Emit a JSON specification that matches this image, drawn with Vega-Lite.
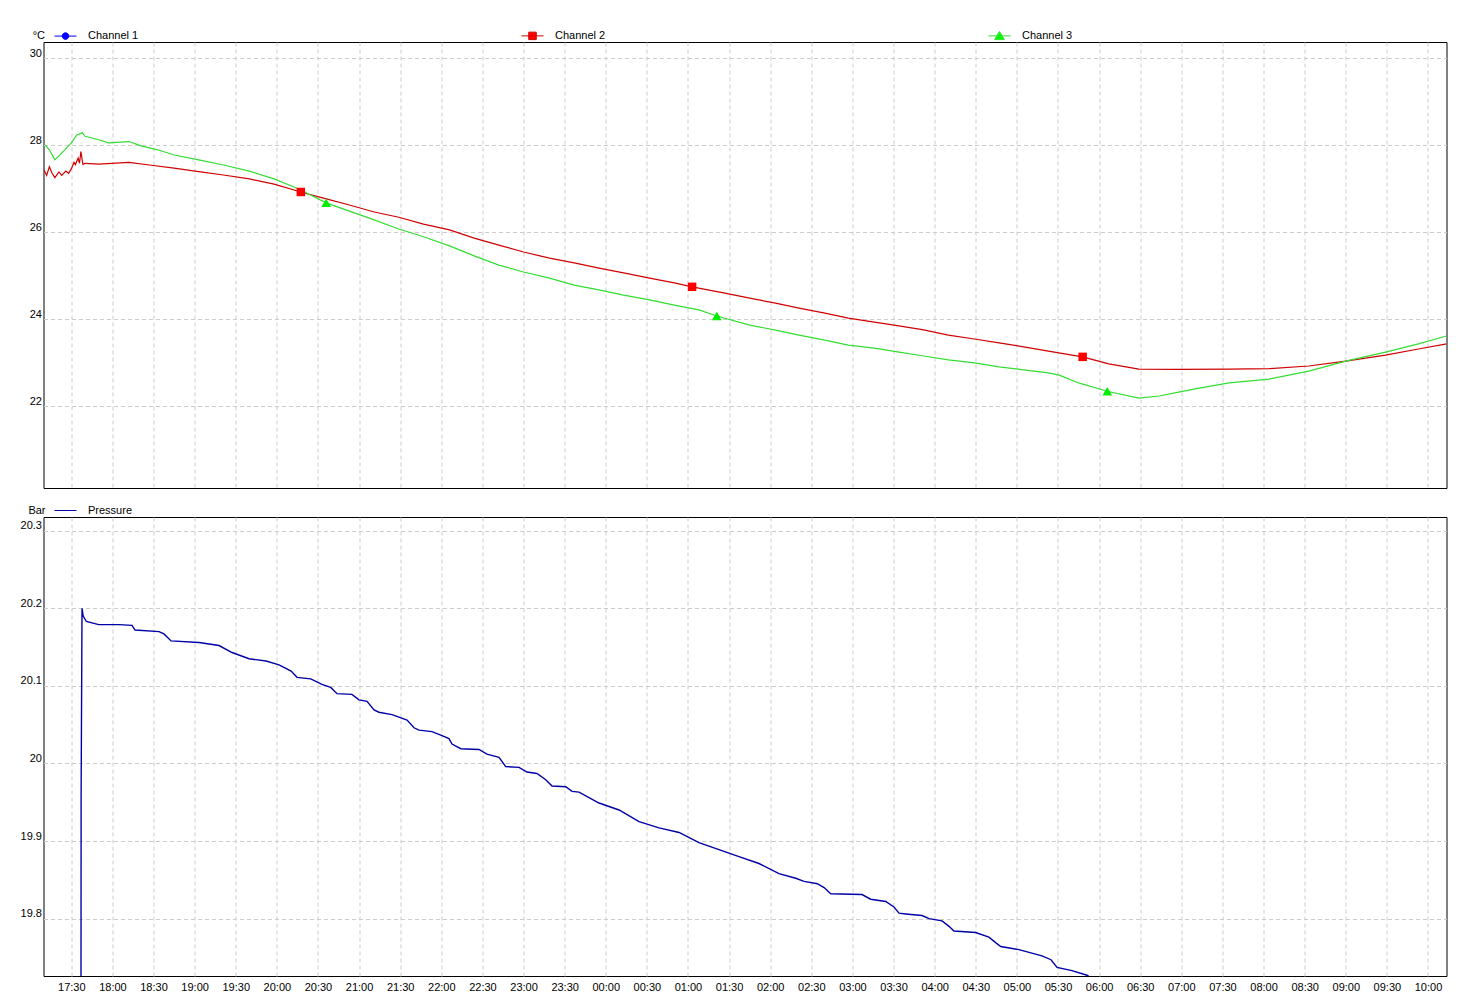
{
  "$schema": "https://vega.github.io/schema/vega-lite/v6.json",
  "background": "white",
  "padding": {"left": 19.5, "top": 23, "right": 5, "bottom": 5},
  "spacing": 9,
  "config": {
    "font": "Liberation Sans",
    "view": {"stroke": "#000000", "strokeWidth": 1},
    "axis": {
      "labelFont": "Liberation Sans", "labelFontSize": 11, "labelColor": "#000000",
      "titleFont": "Liberation Sans", "titleFontSize": 11, "titleFontWeight": "normal", "titleColor": "#000000",
      "gridColor": "#cccccc", "gridDash": [4, 3], "gridWidth": 1, "gridOpacity": 1,
      "domain": false, "ticks": false
    },
    "legend": {
      "labelFont": "Liberation Sans", "labelFontSize": 11, "labelColor": "#000000", "padding": 0
    }
  },
  "datasets": {
    "temps": [
      {"time": "2024-01-01T17:10:00", "channel": "Channel 2", "value": 27.43},
      {"time": "2024-01-01T17:12:00", "channel": "Channel 2", "value": 27.30},
      {"time": "2024-01-01T17:14:00", "channel": "Channel 2", "value": 27.50},
      {"time": "2024-01-01T17:16:00", "channel": "Channel 2", "value": 27.35},
      {"time": "2024-01-01T17:18:00", "channel": "Channel 2", "value": 27.25},
      {"time": "2024-01-01T17:21:00", "channel": "Channel 2", "value": 27.38},
      {"time": "2024-01-01T17:23:00", "channel": "Channel 2", "value": 27.30},
      {"time": "2024-01-01T17:26:00", "channel": "Channel 2", "value": 27.40},
      {"time": "2024-01-01T17:28:00", "channel": "Channel 2", "value": 27.35},
      {"time": "2024-01-01T17:30:00", "channel": "Channel 2", "value": 27.45},
      {"time": "2024-01-01T17:32:00", "channel": "Channel 2", "value": 27.60},
      {"time": "2024-01-01T17:33:00", "channel": "Channel 2", "value": 27.55},
      {"time": "2024-01-01T17:35:00", "channel": "Channel 2", "value": 27.70},
      {"time": "2024-01-01T17:36:00", "channel": "Channel 2", "value": 27.58},
      {"time": "2024-01-01T17:37:00", "channel": "Channel 2", "value": 27.85},
      {"time": "2024-01-01T17:38:30", "channel": "Channel 2", "value": 27.55},
      {"time": "2024-01-01T17:40:00", "channel": "Channel 2", "value": 27.58},
      {"time": "2024-01-01T17:50:00", "channel": "Channel 2", "value": 27.56},
      {"time": "2024-01-01T18:12:00", "channel": "Channel 2", "value": 27.60},
      {"time": "2024-01-01T18:27:00", "channel": "Channel 2", "value": 27.54},
      {"time": "2024-01-01T18:45:00", "channel": "Channel 2", "value": 27.47},
      {"time": "2024-01-01T19:03:00", "channel": "Channel 2", "value": 27.39},
      {"time": "2024-01-01T19:21:00", "channel": "Channel 2", "value": 27.31},
      {"time": "2024-01-01T19:40:00", "channel": "Channel 2", "value": 27.22},
      {"time": "2024-01-01T19:58:00", "channel": "Channel 2", "value": 27.10},
      {"time": "2024-01-01T20:17:30", "channel": "Channel 2", "value": 26.92},
      {"time": "2024-01-01T20:34:00", "channel": "Channel 2", "value": 26.78},
      {"time": "2024-01-01T20:53:00", "channel": "Channel 2", "value": 26.62},
      {"time": "2024-01-01T21:11:00", "channel": "Channel 2", "value": 26.46},
      {"time": "2024-01-01T21:29:00", "channel": "Channel 2", "value": 26.34},
      {"time": "2024-01-01T21:47:00", "channel": "Channel 2", "value": 26.18},
      {"time": "2024-01-01T22:06:00", "channel": "Channel 2", "value": 26.05},
      {"time": "2024-01-01T22:24:00", "channel": "Channel 2", "value": 25.86},
      {"time": "2024-01-01T22:42:00", "channel": "Channel 2", "value": 25.70},
      {"time": "2024-01-01T23:00:00", "channel": "Channel 2", "value": 25.54},
      {"time": "2024-01-01T23:19:00", "channel": "Channel 2", "value": 25.40},
      {"time": "2024-01-01T23:37:00", "channel": "Channel 2", "value": 25.29},
      {"time": "2024-01-01T23:55:00", "channel": "Channel 2", "value": 25.17},
      {"time": "2024-01-02T00:13:00", "channel": "Channel 2", "value": 25.06},
      {"time": "2024-01-02T00:32:00", "channel": "Channel 2", "value": 24.94},
      {"time": "2024-01-02T00:50:00", "channel": "Channel 2", "value": 24.83},
      {"time": "2024-01-02T01:03:00", "channel": "Channel 2", "value": 24.74},
      {"time": "2024-01-02T01:26:00", "channel": "Channel 2", "value": 24.60},
      {"time": "2024-01-02T01:45:00", "channel": "Channel 2", "value": 24.48},
      {"time": "2024-01-02T02:03:00", "channel": "Channel 2", "value": 24.37},
      {"time": "2024-01-02T02:21:00", "channel": "Channel 2", "value": 24.25},
      {"time": "2024-01-02T02:39:00", "channel": "Channel 2", "value": 24.14},
      {"time": "2024-01-02T02:57:00", "channel": "Channel 2", "value": 24.02},
      {"time": "2024-01-02T03:16:00", "channel": "Channel 2", "value": 23.93},
      {"time": "2024-01-02T03:34:00", "channel": "Channel 2", "value": 23.84},
      {"time": "2024-01-02T03:52:00", "channel": "Channel 2", "value": 23.75},
      {"time": "2024-01-02T04:10:00", "channel": "Channel 2", "value": 23.63},
      {"time": "2024-01-02T04:29:00", "channel": "Channel 2", "value": 23.54},
      {"time": "2024-01-02T04:47:00", "channel": "Channel 2", "value": 23.45},
      {"time": "2024-01-02T05:05:00", "channel": "Channel 2", "value": 23.36},
      {"time": "2024-01-02T05:23:00", "channel": "Channel 2", "value": 23.26},
      {"time": "2024-01-02T05:48:00", "channel": "Channel 2", "value": 23.13},
      {"time": "2024-01-02T06:07:00", "channel": "Channel 2", "value": 22.97},
      {"time": "2024-01-02T06:29:00", "channel": "Channel 2", "value": 22.85},
      {"time": "2024-01-02T06:58:00", "channel": "Channel 2", "value": 22.84},
      {"time": "2024-01-02T07:35:00", "channel": "Channel 2", "value": 22.85},
      {"time": "2024-01-02T08:04:00", "channel": "Channel 2", "value": 22.86},
      {"time": "2024-01-02T08:33:00", "channel": "Channel 2", "value": 22.92},
      {"time": "2024-01-02T09:00:00", "channel": "Channel 2", "value": 23.03},
      {"time": "2024-01-02T09:29:00", "channel": "Channel 2", "value": 23.17},
      {"time": "2024-01-02T09:53:00", "channel": "Channel 2", "value": 23.31},
      {"time": "2024-01-02T10:13:30", "channel": "Channel 2", "value": 23.43},
      {"time": "2024-01-01T17:11:00", "channel": "Channel 3", "value": 28.00},
      {"time": "2024-01-01T17:14:00", "channel": "Channel 3", "value": 27.89},
      {"time": "2024-01-01T17:18:00", "channel": "Channel 3", "value": 27.66},
      {"time": "2024-01-01T17:21:00", "channel": "Channel 3", "value": 27.75},
      {"time": "2024-01-01T17:28:00", "channel": "Channel 3", "value": 27.98},
      {"time": "2024-01-01T17:30:00", "channel": "Channel 3", "value": 28.05},
      {"time": "2024-01-01T17:34:00", "channel": "Channel 3", "value": 28.23},
      {"time": "2024-01-01T17:38:00", "channel": "Channel 3", "value": 28.28},
      {"time": "2024-01-01T17:40:00", "channel": "Channel 3", "value": 28.20},
      {"time": "2024-01-01T17:50:00", "channel": "Channel 3", "value": 28.12},
      {"time": "2024-01-01T17:57:00", "channel": "Channel 3", "value": 28.05},
      {"time": "2024-01-01T18:12:00", "channel": "Channel 3", "value": 28.08},
      {"time": "2024-01-01T18:21:00", "channel": "Channel 3", "value": 27.98},
      {"time": "2024-01-01T18:33:00", "channel": "Channel 3", "value": 27.89},
      {"time": "2024-01-01T18:45:00", "channel": "Channel 3", "value": 27.77},
      {"time": "2024-01-01T19:03:00", "channel": "Channel 3", "value": 27.66},
      {"time": "2024-01-01T19:21:00", "channel": "Channel 3", "value": 27.54},
      {"time": "2024-01-01T19:40:00", "channel": "Channel 3", "value": 27.40},
      {"time": "2024-01-01T19:58:00", "channel": "Channel 3", "value": 27.22},
      {"time": "2024-01-01T20:16:00", "channel": "Channel 3", "value": 26.99},
      {"time": "2024-01-01T20:36:00", "channel": "Channel 3", "value": 26.67},
      {"time": "2024-01-01T20:53:00", "channel": "Channel 3", "value": 26.48},
      {"time": "2024-01-01T21:11:00", "channel": "Channel 3", "value": 26.28},
      {"time": "2024-01-01T21:29:00", "channel": "Channel 3", "value": 26.07},
      {"time": "2024-01-01T21:47:00", "channel": "Channel 3", "value": 25.89},
      {"time": "2024-01-01T22:06:00", "channel": "Channel 3", "value": 25.68},
      {"time": "2024-01-01T22:24:00", "channel": "Channel 3", "value": 25.45},
      {"time": "2024-01-01T22:42:00", "channel": "Channel 3", "value": 25.24},
      {"time": "2024-01-01T23:00:00", "channel": "Channel 3", "value": 25.08},
      {"time": "2024-01-01T23:19:00", "channel": "Channel 3", "value": 24.94},
      {"time": "2024-01-01T23:37:00", "channel": "Channel 3", "value": 24.78},
      {"time": "2024-01-01T23:55:00", "channel": "Channel 3", "value": 24.67},
      {"time": "2024-01-02T00:13:00", "channel": "Channel 3", "value": 24.55},
      {"time": "2024-01-02T00:32:00", "channel": "Channel 3", "value": 24.44},
      {"time": "2024-01-02T00:50:00", "channel": "Channel 3", "value": 24.32},
      {"time": "2024-01-02T01:08:00", "channel": "Channel 3", "value": 24.21},
      {"time": "2024-01-02T01:21:00", "channel": "Channel 3", "value": 24.07},
      {"time": "2024-01-02T01:45:00", "channel": "Channel 3", "value": 23.86},
      {"time": "2024-01-02T02:03:00", "channel": "Channel 3", "value": 23.75},
      {"time": "2024-01-02T02:21:00", "channel": "Channel 3", "value": 23.63},
      {"time": "2024-01-02T02:39:00", "channel": "Channel 3", "value": 23.52},
      {"time": "2024-01-02T02:57:00", "channel": "Channel 3", "value": 23.40},
      {"time": "2024-01-02T03:16:00", "channel": "Channel 3", "value": 23.33},
      {"time": "2024-01-02T03:34:00", "channel": "Channel 3", "value": 23.24},
      {"time": "2024-01-02T03:52:00", "channel": "Channel 3", "value": 23.15},
      {"time": "2024-01-02T04:10:00", "channel": "Channel 3", "value": 23.06},
      {"time": "2024-01-02T04:29:00", "channel": "Channel 3", "value": 22.99},
      {"time": "2024-01-02T04:47:00", "channel": "Channel 3", "value": 22.90},
      {"time": "2024-01-02T05:05:00", "channel": "Channel 3", "value": 22.83},
      {"time": "2024-01-02T05:23:00", "channel": "Channel 3", "value": 22.76},
      {"time": "2024-01-02T05:31:00", "channel": "Channel 3", "value": 22.71},
      {"time": "2024-01-02T05:45:00", "channel": "Channel 3", "value": 22.53},
      {"time": "2024-01-02T06:06:00", "channel": "Channel 3", "value": 22.34},
      {"time": "2024-01-02T06:29:00", "channel": "Channel 3", "value": 22.18},
      {"time": "2024-01-02T06:44:00", "channel": "Channel 3", "value": 22.23},
      {"time": "2024-01-02T06:58:00", "channel": "Channel 3", "value": 22.32},
      {"time": "2024-01-02T07:13:00", "channel": "Channel 3", "value": 22.41},
      {"time": "2024-01-02T07:35:00", "channel": "Channel 3", "value": 22.53},
      {"time": "2024-01-02T08:04:00", "channel": "Channel 3", "value": 22.62},
      {"time": "2024-01-02T08:33:00", "channel": "Channel 3", "value": 22.80},
      {"time": "2024-01-02T09:00:00", "channel": "Channel 3", "value": 23.03},
      {"time": "2024-01-02T09:29:00", "channel": "Channel 3", "value": 23.24},
      {"time": "2024-01-02T09:53:00", "channel": "Channel 3", "value": 23.43},
      {"time": "2024-01-02T10:13:30", "channel": "Channel 3", "value": 23.61}
    ],
    "markers": [
      {"time": "2024-01-01T20:17:30", "channel": "Channel 2", "value": 26.92},
      {"time": "2024-01-02T01:03:00", "channel": "Channel 2", "value": 24.74},
      {"time": "2024-01-02T05:48:00", "channel": "Channel 2", "value": 23.13},
      {"time": "2024-01-01T20:36:00", "channel": "Channel 3", "value": 26.67},
      {"time": "2024-01-02T01:21:00", "channel": "Channel 3", "value": 24.07},
      {"time": "2024-01-02T06:06:00", "channel": "Channel 3", "value": 22.34}
    ],
    "pressure": [
      {"time": "2024-01-01T17:37:00", "series": "Pressure", "value": 19.50},
      {"time": "2024-01-01T17:37:10", "series": "Pressure", "value": 19.96},
      {"time": "2024-01-01T17:37:50", "series": "Pressure", "value": 20.200},
      {"time": "2024-01-01T17:38:40", "series": "Pressure", "value": 20.190},
      {"time": "2024-01-01T17:41:00", "series": "Pressure", "value": 20.183},
      {"time": "2024-01-01T17:50:00", "series": "Pressure", "value": 20.179},
      {"time": "2024-01-01T18:04:48", "series": "Pressure", "value": 20.179},
      {"time": "2024-01-01T18:14:18", "series": "Pressure", "value": 20.178},
      {"time": "2024-01-01T18:16:30", "series": "Pressure", "value": 20.172},
      {"time": "2024-01-01T18:34:00", "series": "Pressure", "value": 20.170},
      {"time": "2024-01-01T18:37:36", "series": "Pressure", "value": 20.167},
      {"time": "2024-01-01T18:42:48", "series": "Pressure", "value": 20.158},
      {"time": "2024-01-01T19:03:12", "series": "Pressure", "value": 20.156},
      {"time": "2024-01-01T19:17:48", "series": "Pressure", "value": 20.152},
      {"time": "2024-01-01T19:27:18", "series": "Pressure", "value": 20.143},
      {"time": "2024-01-01T19:39:42", "series": "Pressure", "value": 20.135},
      {"time": "2024-01-01T19:52:06", "series": "Pressure", "value": 20.132},
      {"time": "2024-01-01T20:01:36", "series": "Pressure", "value": 20.127},
      {"time": "2024-01-01T20:10:24", "series": "Pressure", "value": 20.119},
      {"time": "2024-01-01T20:14:42", "series": "Pressure", "value": 20.111},
      {"time": "2024-01-01T20:24:42", "series": "Pressure", "value": 20.109},
      {"time": "2024-01-01T20:32:54", "series": "Pressure", "value": 20.102},
      {"time": "2024-01-01T20:39:18", "series": "Pressure", "value": 20.098},
      {"time": "2024-01-01T20:43:54", "series": "Pressure", "value": 20.090},
      {"time": "2024-01-01T20:54:48", "series": "Pressure", "value": 20.089},
      {"time": "2024-01-01T20:59:54", "series": "Pressure", "value": 20.082},
      {"time": "2024-01-01T21:05:48", "series": "Pressure", "value": 20.080},
      {"time": "2024-01-01T21:10:54", "series": "Pressure", "value": 20.069},
      {"time": "2024-01-01T21:14:30", "series": "Pressure", "value": 20.066},
      {"time": "2024-01-01T21:24:00", "series": "Pressure", "value": 20.063},
      {"time": "2024-01-01T21:35:00", "series": "Pressure", "value": 20.056},
      {"time": "2024-01-01T21:40:06", "series": "Pressure", "value": 20.046},
      {"time": "2024-01-01T21:43:42", "series": "Pressure", "value": 20.043},
      {"time": "2024-01-01T21:53:12", "series": "Pressure", "value": 20.041},
      {"time": "2024-01-01T22:00:30", "series": "Pressure", "value": 20.036},
      {"time": "2024-01-01T22:05:36", "series": "Pressure", "value": 20.032},
      {"time": "2024-01-01T22:07:48", "series": "Pressure", "value": 20.025},
      {"time": "2024-01-01T22:14:12", "series": "Pressure", "value": 20.019},
      {"time": "2024-01-01T22:27:30", "series": "Pressure", "value": 20.018},
      {"time": "2024-01-01T22:33:18", "series": "Pressure", "value": 20.012},
      {"time": "2024-01-01T22:42:06", "series": "Pressure", "value": 20.008},
      {"time": "2024-01-01T22:47:00", "series": "Pressure", "value": 19.996},
      {"time": "2024-01-01T22:56:42", "series": "Pressure", "value": 19.995},
      {"time": "2024-01-01T23:02:30", "series": "Pressure", "value": 19.989},
      {"time": "2024-01-01T23:09:48", "series": "Pressure", "value": 19.987},
      {"time": "2024-01-01T23:16:12", "series": "Pressure", "value": 19.979},
      {"time": "2024-01-01T23:20:48", "series": "Pressure", "value": 19.971},
      {"time": "2024-01-01T23:30:48", "series": "Pressure", "value": 19.970},
      {"time": "2024-01-01T23:35:24", "series": "Pressure", "value": 19.964},
      {"time": "2024-01-01T23:40:30", "series": "Pressure", "value": 19.963},
      {"time": "2024-01-01T23:55:06", "series": "Pressure", "value": 19.949},
      {"time": "2024-01-02T00:09:42", "series": "Pressure", "value": 19.940},
      {"time": "2024-01-02T00:24:18", "series": "Pressure", "value": 19.925},
      {"time": "2024-01-02T00:38:54", "series": "Pressure", "value": 19.917},
      {"time": "2024-01-02T00:53:30", "series": "Pressure", "value": 19.911},
      {"time": "2024-01-02T01:08:00", "series": "Pressure", "value": 19.898},
      {"time": "2024-01-02T01:22:36", "series": "Pressure", "value": 19.889},
      {"time": "2024-01-02T01:37:12", "series": "Pressure", "value": 19.880},
      {"time": "2024-01-02T01:51:48", "series": "Pressure", "value": 19.871},
      {"time": "2024-01-02T02:06:24", "series": "Pressure", "value": 19.858},
      {"time": "2024-01-02T02:18:36", "series": "Pressure", "value": 19.852},
      {"time": "2024-01-02T02:24:42", "series": "Pressure", "value": 19.848},
      {"time": "2024-01-02T02:34:24", "series": "Pressure", "value": 19.845},
      {"time": "2024-01-02T02:39:18", "series": "Pressure", "value": 19.840},
      {"time": "2024-01-02T02:44:12", "series": "Pressure", "value": 19.832},
      {"time": "2024-01-02T03:07:00", "series": "Pressure", "value": 19.831},
      {"time": "2024-01-02T03:13:18", "series": "Pressure", "value": 19.825},
      {"time": "2024-01-02T03:24:18", "series": "Pressure", "value": 19.822},
      {"time": "2024-01-02T03:30:18", "series": "Pressure", "value": 19.815},
      {"time": "2024-01-02T03:34:00", "series": "Pressure", "value": 19.807},
      {"time": "2024-01-02T03:38:54", "series": "Pressure", "value": 19.806},
      {"time": "2024-01-02T03:50:48", "series": "Pressure", "value": 19.804},
      {"time": "2024-01-02T03:55:54", "series": "Pressure", "value": 19.800},
      {"time": "2024-01-02T04:05:24", "series": "Pressure", "value": 19.797},
      {"time": "2024-01-02T04:10:30", "series": "Pressure", "value": 19.790},
      {"time": "2024-01-02T04:14:06", "series": "Pressure", "value": 19.784},
      {"time": "2024-01-02T04:29:54", "series": "Pressure", "value": 19.782},
      {"time": "2024-01-02T04:39:36", "series": "Pressure", "value": 19.776},
      {"time": "2024-01-02T04:44:30", "series": "Pressure", "value": 19.769},
      {"time": "2024-01-02T04:48:12", "series": "Pressure", "value": 19.764},
      {"time": "2024-01-02T05:01:30", "series": "Pressure", "value": 19.760},
      {"time": "2024-01-02T05:18:18", "series": "Pressure", "value": 19.752},
      {"time": "2024-01-02T05:24:54", "series": "Pressure", "value": 19.747},
      {"time": "2024-01-02T05:29:18", "series": "Pressure", "value": 19.737},
      {"time": "2024-01-02T05:40:12", "series": "Pressure", "value": 19.733},
      {"time": "2024-01-02T05:51:12", "series": "Pressure", "value": 19.727},
      {"time": "2024-01-02T05:57:00", "series": "Pressure", "value": 19.720}
    ]
  },
  "vconcat": [
    {
      "width": 1403,
      "height": 446,
      "layer": [
        {
          "data": {"name": "temps"},
          "mark": {"type": "line", "strokeWidth": 1.2, "clip": true},
          "encoding": {
            "x": {
              "field": "time", "type": "temporal",
              "scale": {"domain": [
                {"year": 2024, "month": 1, "date": 1, "hours": 17, "minutes": 9, "seconds": 43},
                {"year": 2024, "month": 1, "date": 2, "hours": 10, "minutes": 13, "seconds": 30}
              ]},
              "axis": {"labels": false, "title": null, "grid": true}
            },
            "y": {
              "field": "value", "type": "quantitative",
              "scale": {"domain": [20.115, 30.368], "nice": false, "zero": false},
              "axis": {
                "values": [22, 24, 26, 28, 30], "format": "~g", "grid": true,
                "labelBaseline": "alphabetic", "labelPadding": 2, "labelOffset": -2,
                "title": "°C", "titleAngle": 0, "titleAlign": "right", "titleBaseline": "middle",
                "titleX": 1, "titleY": -7
              }
            },
            "color": {
              "field": "channel", "type": "nominal",
              "scale": {"domain": ["Channel 1", "Channel 2", "Channel 3"], "range": ["#0000ff", "#d00000", "#33dd33"]},
              "legend": {
                "title": null, "orient": "none", "legendX": 10.5, "legendY": -18,
                "direction": "horizontal", "columns": 3, "columnPadding": 380,
                "labelOffset": 11, "symbolSize": 484, "symbolStrokeWidth": 1,
                "encode": {
                  "symbols": {
                    "update": {
                      "shape": {"signal": "datum.value == 'Channel 1' ? 'M-1,0H1M-0.3,0A0.3,0.3,0,1,0,0.3,0A0.3,0.3,0,1,0,-0.3,0Z' : datum.value == 'Channel 2' ? 'M-1,0H1M-0.34,-0.34H0.34V0.34H-0.34Z' : 'M-1,0H1M0,-0.4L0.44,0.34H-0.44Z'"},
                      "fill": {"signal": "datum.value == 'Channel 1' ? '#0000ff' : datum.value == 'Channel 2' ? '#ff0000' : '#00ff00'"},
                      "stroke": {"signal": "datum.value == 'Channel 1' ? '#0000ff' : datum.value == 'Channel 2' ? '#ff0000' : '#00dd00'"},
                      "strokeWidth": {"value": 1},
                      "opacity": {"value": 1}
                    }
                  }
                }
              }
            }
          }
        },
        {
          "data": {"name": "markers"},
          "transform": [{"filter": "datum.channel == 'Channel 2'"}],
          "mark": {"type": "point", "shape": "square", "filled": true, "size": 72, "color": "#ff0000", "opacity": 1},
          "encoding": {
            "x": {"field": "time", "type": "temporal"},
            "y": {"field": "value", "type": "quantitative"}
          }
        },
        {
          "data": {"name": "markers"},
          "transform": [{"filter": "datum.channel == 'Channel 3'"}],
          "mark": {"type": "point", "shape": "triangle-up", "filled": true, "size": 95, "color": "#00ee00", "opacity": 1},
          "encoding": {
            "x": {"field": "time", "type": "temporal"},
            "y": {"field": "value", "type": "quantitative"}
          }
        }
      ]
    },
    {
      "width": 1403,
      "height": 459,
      "data": {"name": "pressure"},
      "mark": {"type": "line", "strokeWidth": 1.4, "clip": true},
      "encoding": {
        "x": {
          "field": "time", "type": "temporal",
          "scale": {"domain": [
            {"year": 2024, "month": 1, "date": 1, "hours": 17, "minutes": 9, "seconds": 43},
            {"year": 2024, "month": 1, "date": 2, "hours": 10, "minutes": 13, "seconds": 30}
          ]},
          "axis": {"title": null, "grid": true, "format": "%H:%M", "labelPadding": 5}
        },
        "y": {
          "field": "value", "type": "quantitative",
          "scale": {"domain": [19.726, 20.3177], "nice": false, "zero": false},
          "axis": {
            "values": [19.8, 19.9, 20, 20.1, 20.2, 20.3], "format": "~g", "grid": true,
            "labelBaseline": "alphabetic", "labelPadding": 2, "labelOffset": -2,
            "title": "Bar", "titleAngle": 0, "titleAlign": "right", "titleBaseline": "middle",
            "titleX": 1.5, "titleY": -7
          }
        },
        "color": {
          "field": "series", "type": "nominal",
          "scale": {"domain": ["Pressure"], "range": ["#0000a8"]},
          "legend": {
            "title": null, "orient": "none", "legendX": 10.5, "legendY": -18,
            "direction": "horizontal", "labelOffset": 11, "symbolSize": 484, "symbolStrokeWidth": 1,
            "symbolStrokeColor": "#0000a8",
            "encode": {
              "symbols": {
                "update": {
                  "shape": {"signal": "'M-1,0H1'"},
                  "fill": {"signal": "'transparent'"},
                  "stroke": {"signal": "'#0000a8'"},
                  "strokeWidth": {"value": 1},
                  "opacity": {"value": 1}
                }
              }
            }
          }
        }
      }
    }
  ],
  "resolve": {
    "scale": {"color": "independent", "x": "independent", "y": "independent"},
    "legend": {"color": "independent"}
  }
}
